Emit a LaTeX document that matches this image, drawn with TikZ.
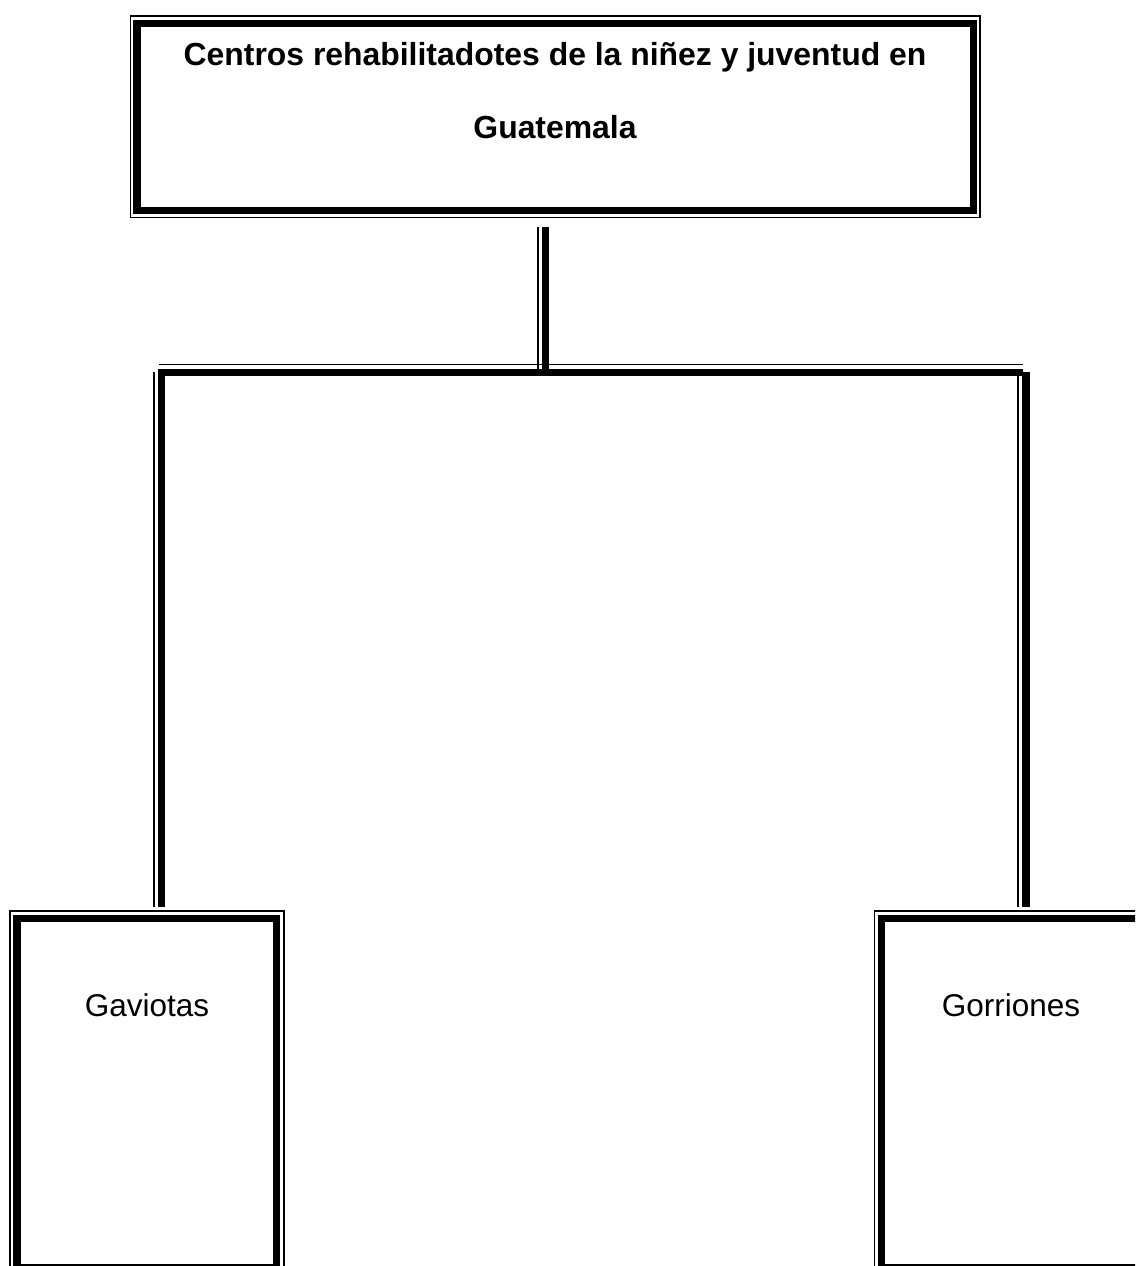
\documentclass[tikz,border=0pt]{standalone}
\usepackage{fontspec}
\setmainfont{Liberation Sans}
\begin{document}
\begin{tikzpicture}[x=1pt,y=-1pt,
  thickline/.style={line width=7.4pt, line cap=butt},
  thinline/.style={line width=1.6pt, line cap=butt},
  boxstyle/.style={draw, line width=7.4pt, outer sep=0pt, inner sep=0pt, anchor=north west},
  titlefont/.style={font=\fontsize{31.9}{38}\selectfont\bfseries, anchor=base, inner sep=0pt},
  labelfont/.style={font=\fontsize{31.5}{38}\selectfont, anchor=base, inner sep=0pt}]
\useasboundingbox (0,0) rectangle (1135,1266);
\clip (0,0) rectangle (1135,1266);
\fill[white] (0,0) rectangle (1135,1266);

% boxes (thick inner border)
\node[boxstyle, minimum width=836.5pt, minimum height=187pt] (top) at (137,23.5) {};
\node[boxstyle, minimum width=259.7pt, minimum height=349.7pt] (left) at (17,918.3) {};
\node[boxstyle, minimum width=264pt, minimum height=349.7pt] (right) at (881.7,918.3) {};

% thin outer borders
\draw[thinline] ([shift={(-6.5,-7.5)}]top.north west) rectangle ([shift={(6.5,7)}]top.south east);
\draw[thinline] ([shift={(-7.3,-7.6)}]left.north west) rectangle ([shift={(7.3,7.6)}]left.south east);
\draw[thinline] ([shift={(-7.3,-7.6)}]right.north west) rectangle ([shift={(7.3,7.6)}]right.south east);

% texts
\node[titlefont] (t1) at (555,65) {Centros rehabilitadotes de la niñez y juventud en};
\node[titlefont] (t2) at (555,138.3) {Guatemala};
\node[labelfont] (gav) at (147,1016) {Gaviotas};
\node[labelfont] (gor) at (1011,1016) {Gorriones};

% connector coordinates
\coordinate (vTop) at (545.7,227);
\coordinate (vBot) at (545.7,369);
\coordinate (hL) at (158,372.5);
\coordinate (hR) at (1022.7,372.5);
\coordinate (lTop) at (161.5,369);
\coordinate (lBot) at (161.5,907);
\coordinate (rTop) at (1026,371.7);
\coordinate (rBot) at (1026,907);

% vertical from title box
\draw[thickline] (vTop) -- (vBot);
\draw[thinline] ([xshift=-7.5]vTop) -- ([xshift=-7.5]vBot);
% horizontal bus
\draw[thickline] (hL) -- (hR);
\draw[thinline] ([shift={(1,-8)}]hL) -- ([shift={(0.3,-8)}]hR);
% left drop
\draw[thickline] (lTop) -- (lBot);
\draw[thinline] ([shift={(-7.8,3)}]lTop) -- ([xshift=-7.8]lBot);
% right drop
\draw[thickline] (rTop) -- (rBot);
\draw[thinline] ([xshift=-8]rTop) -- ([xshift=-8]rBot);
\end{tikzpicture}
\end{document}
